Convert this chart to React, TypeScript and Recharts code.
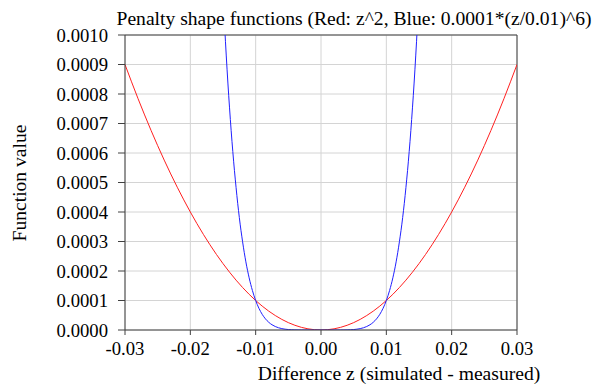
import {
  LineChart,
  Line,
  XAxis,
  YAxis,
  CartesianGrid,
  ReferenceLine,
} from "recharts";

const FONT = "'Liberation Serif', 'Times New Roman', serif";
const TICK_SIZE = 18.7;
const LABEL_SIZE = 19.6;

const TITLE = "Penalty shape functions (Red: z^2, Blue: 0.0001*(z/0.01)^6)";
const X_LABEL = "Difference z (simulated - measured)";
const Y_LABEL = "Function value";

const X_TICKS = [-0.03, -0.02, -0.01, 0, 0.01, 0.02, 0.03];
const Y_TICKS = [0, 0.0001, 0.0002, 0.0003, 0.0004, 0.0005, 0.0006, 0.0007, 0.0008, 0.0009, 0.001];

// red curve: z^2
const redZ = [
  -0.03, -0.028, -0.026, -0.024, -0.022, -0.02, -0.018, -0.016, -0.014, -0.012, -0.01,
  -0.008, -0.006, -0.004, -0.002, 0, 0.002, 0.004, 0.006, 0.008, 0.01,
  0.012, 0.014, 0.016, 0.018, 0.02, 0.022, 0.024, 0.026, 0.028, 0.03,
];
const redValues = [
  0.0009, 0.000784, 0.000676, 0.000576, 0.000484, 0.0004, 0.000324, 0.000256, 0.000196, 0.000144, 0.0001,
  0.000064, 0.000036, 0.000016, 0.000004, 0, 0.000004, 0.000016, 0.000036, 0.000064, 0.0001,
  0.000144, 0.000196, 0.000256, 0.000324, 0.0004, 0.000484, 0.000576, 0.000676, 0.000784, 0.0009,
];

// blue curve: 0.0001*(z/0.01)^6, leaves the top of the plot near |z| = 0.0147
const blueZ = [
  -0.015, -0.0145, -0.014, -0.0135, -0.013, -0.0125, -0.012, -0.0115, -0.011, -0.0105,
  -0.01, -0.0095, -0.009, -0.0085, -0.008, -0.0075, -0.007, -0.0065, -0.006, -0.0055,
  -0.005, -0.0045, -0.004, -0.0035, -0.003, -0.0025, -0.002, -0.0015, -0.001, -0.0005,
  0,
  0.0005, 0.001, 0.0015, 0.002, 0.0025, 0.003, 0.0035, 0.004, 0.0045, 0.005,
  0.0055, 0.006, 0.0065, 0.007, 0.0075, 0.008, 0.0085, 0.009, 0.0095, 0.01,
  0.0105, 0.011, 0.0115, 0.012, 0.0125, 0.013, 0.0135, 0.014, 0.0145, 0.015,
];
const blueValues = [
  0.001139, 0.000929, 0.000753, 0.000605, 0.000483, 0.000381, 0.000299, 0.000231, 0.000177, 0.000134,
  0.0001, 0.0000735, 0.0000531, 0.0000377, 0.0000262, 0.0000178, 0.0000118, 0.00000754, 0.00000467, 0.00000277,
  0.00000156, 0.00000083, 0.00000041, 0.000000184, 0.0000000729, 0.0000000244, 0.0000000064, 0.0000000011, 0.0000000001, 0,
  0,
  0, 0.0000000001, 0.0000000011, 0.0000000064, 0.0000000244, 0.0000000729, 0.000000184, 0.00000041, 0.00000083, 0.00000156,
  0.00000277, 0.00000467, 0.00000754, 0.0000118, 0.0000178, 0.0000262, 0.0000377, 0.0000531, 0.0000735, 0.0001,
  0.000134, 0.000177, 0.000231, 0.000299, 0.000381, 0.000483, 0.000605, 0.000753, 0.000929, 0.001139,
];

const redData = redZ.map((z, i) => ({ z, v: redValues[i] }));
const blueData = blueZ.map((z, i) => ({ z, v: blueValues[i] }));

const XTick = ({ x, y, payload }: any) => (
  <text x={x} y={y} dy="0.71em" textAnchor="middle" fontFamily={FONT} fontSize={TICK_SIZE} fill="#000">
    {Number(payload.value).toFixed(2)}
  </text>
);

const YTick = ({ x, y, payload }: any) => (
  <text x={x} y={y} dy="0.355em" textAnchor="end" fontFamily={FONT} fontSize={TICK_SIZE} fill="#000">
    {Number(payload.value).toFixed(4)}
  </text>
);

const App = () => {
  return (
    <div
      style={{
        position: "absolute",
        left: 0,
        top: 0,
        width: 606,
        height: 392,
        background: "#fff",
        fontFamily: FONT,
      }}
    >
      <LineChart width={606} height={392} margin={{ top: 35, right: 89, bottom: 0, left: 0 }}>
        <CartesianGrid stroke="#d4d4d4" strokeWidth={1} />
        <XAxis
          type="number"
          dataKey="z"
          domain={[-0.03, 0.03]}
          ticks={X_TICKS}
          allowDataOverflow
          height={62}
          tick={<XTick />}
          tickSize={5}
          tickMargin={7}
          stroke="#404040"
          interval={0}
        />
        <YAxis
          type="number"
          domain={[0, 0.001]}
          ticks={Y_TICKS}
          allowDataOverflow
          width={125}
          tick={<YTick />}
          tickSize={7}
          tickMargin={10}
          stroke="#404040"
          interval={0}
        />
        <ReferenceLine y={0.001} stroke="#404040" />
        <ReferenceLine x={0.03} stroke="#404040" />
        <Line
          data={redData}
          dataKey="v"
          type="monotone"
          stroke="#ff2020"
          strokeWidth={1}
          dot={false}
          isAnimationActive={false}
        />
        <Line
          data={blueData}
          dataKey="v"
          type="monotone"
          stroke="#2020ff"
          strokeWidth={1}
          dot={false}
          isAnimationActive={false}
        />
      </LineChart>
      <svg
        width={606}
        height={392}
        style={{ position: "absolute", left: 0, top: 0, pointerEvents: "none" }}
      >
        <text x={354} y={25} textAnchor="middle" fontFamily={FONT} fontSize={LABEL_SIZE} fill="#000">
          {TITLE}
        </text>
        <text x={399} y={380} textAnchor="middle" fontFamily={FONT} fontSize={LABEL_SIZE} fill="#000">
          {X_LABEL}
        </text>
        <text
          transform="translate(26,183) rotate(-90)"
          textAnchor="middle"
          fontFamily={FONT}
          fontSize={LABEL_SIZE}
          fill="#000"
        >
          {Y_LABEL}
        </text>
      </svg>
    </div>
  );
};

export default App;
